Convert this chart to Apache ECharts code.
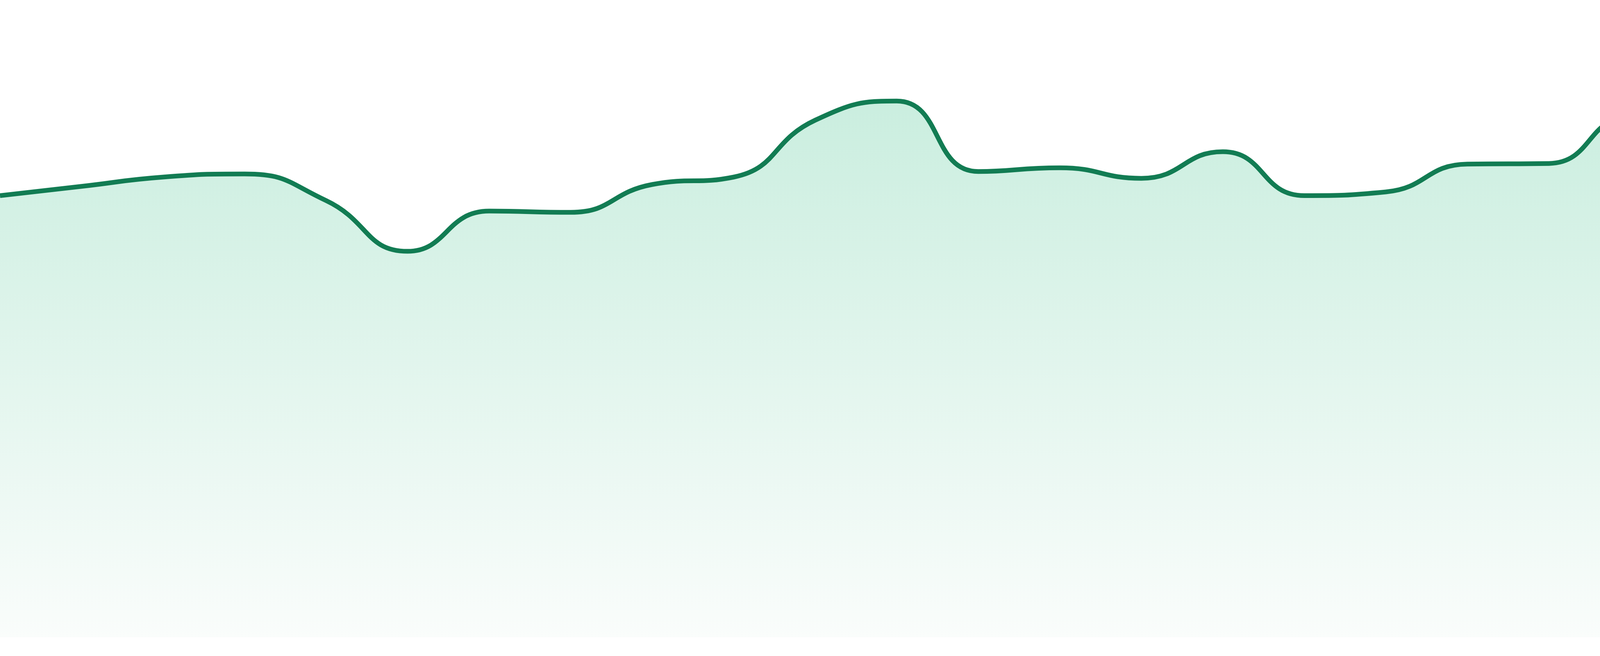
<!DOCTYPE html>
<html>
<head>
<meta charset="utf-8">
<title>Trend</title>
<script src="https://cdn.jsdelivr.net/npm/echarts@6/dist/echarts.min.js"></script>
<style>
  html, body { margin: 0; padding: 0; background: #fff; }
  #chart { width: 4800px; height: 1680px; }
</style>
</head>
<body>
<div id="chart"></div>
<script>
// x categories (24 evenly spaced points, labels hidden in the picture)
const days = ['1', '2', '3', '4', '5', '6', '7', '8', '9', '10', '11', '12',
  '13', '14', '15', '16', '17', '18', '19', '20', '21', '22', '23', '24'];

// values (y axis 0 - 100)
const values = [71.4, 72.9, 74.4, 74.9, 70.6, 62.4, 68.9, 68.7, 73.2, 74.4, 83.6, 86.7,
  75.3, 75.9, 74.2, 78.5, 71.4, 72.0, 76.5, 76.6, 84.1, 82.6, 90.2, 85.4];

const yMin = 0;
const yMax = 100;

const myChart = echarts.init(document.getElementById('chart'));

const option = {
  animation: false,
  grid: {
    left: 0,
    right: 0,
    top: 48,
    bottom: 48
  },
  xAxis: {
    type: 'category',
    boundaryGap: false,
    data: days,
    show: false
  },
  yAxis: {
    type: 'value',
    min: yMin,
    max: yMax,
    show: false
  },
  series: [{
    type: 'line',
    data: values,
    smooth: true,
    showSymbol: false,
    lineStyle: {
      color: '#127c53',
      width: 12
    },
    areaStyle: {
      color: new echarts.graphic.LinearGradient(0, 0, 0, 1, [
        { offset: 0, color: '#b0e5cf' },
        { offset: 1, color: '#f7fbf9' }
      ])
    }
  }]
};

myChart.setOption(option);
</script>
</body>
</html>
